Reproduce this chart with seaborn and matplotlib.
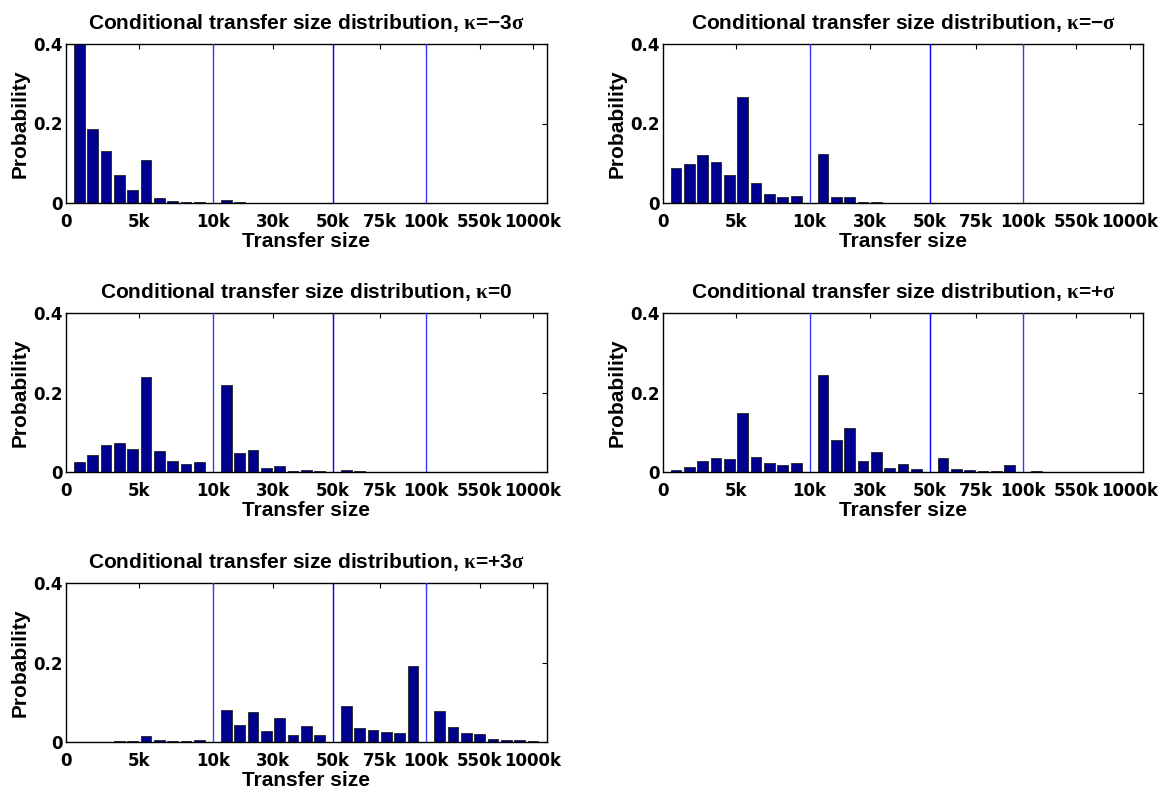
import matplotlib
matplotlib.use("Agg")
import matplotlib.pyplot as plt
import seaborn as sns
import pandas as pd

# ---------------- data ----------------
# bins per segment (0-10k, 10k-50k, 50k-100k, 100k-1000k)
segment_bins = [10, 8, 6, 8]
tick_labels = ["0", "5k", "10k", "30k", "50k", "75k", "100k", "550k", "1000k"]
tick_pos = [0, 5.5, 11, 15.5, 20, 23.5, 27, 31, 35]
boundary_pos = [11, 20, 27]
boundary_colors = ["#3a3aff", "#0000ff", "#3a3aff"]

kappa_m3 = [0.43, 0.187, 0.131, 0.071, 0.033, 0.109, 0.0126, 0.005, 0.003, 0.0025,
            0.008, 0.002, 0.001, 0.001, 0.0005, 0.0003, 0.0002, 0.0002,
            0.0002, 0.0001, 0.0001, 0.0001, 0.0001, 0.0001,
            0.0001, 0.0, 0.0, 0.0, 0.0, 0.0, 0.0, 0.0]
kappa_m1 = [0.089, 0.097, 0.120, 0.102, 0.070, 0.266, 0.050, 0.023, 0.015, 0.0167,
            0.123, 0.016, 0.016, 0.003, 0.003, 0.001, 0.001, 0.001,
            0.0005, 0.0005, 0.0005, 0.0005, 0.0005, 0.0005,
            0.0005, 0.0003, 0.0003, 0.0002, 0.0002, 0.0001, 0.0001, 0.0001]
kappa_0 = [0.024, 0.042, 0.069, 0.072, 0.059, 0.238, 0.054, 0.028, 0.019, 0.024,
           0.218, 0.048, 0.055, 0.009, 0.016, 0.0025, 0.004, 0.0015,
           0.005, 0.0015, 0.001, 0.001, 0.001, 0.001,
           0.0005, 0.0005, 0.0005, 0.0005, 0.0005, 0.0005, 0.0005, 0.0005]
kappa_p1 = [0.004, 0.012, 0.028, 0.035, 0.033, 0.148, 0.038, 0.023, 0.018, 0.023,
            0.244, 0.080, 0.110, 0.027, 0.051, 0.009, 0.020, 0.007,
            0.034, 0.007, 0.004, 0.0025, 0.0015, 0.017,
            0.0025, 0.001, 0.001, 0.001, 0.001, 0.001, 0.001, 0.001]
kappa_p3 = [0.0005, 0.0005, 0.001, 0.0017, 0.003, 0.016, 0.006, 0.003, 0.003, 0.005,
            0.080, 0.0435, 0.076, 0.028, 0.061, 0.018, 0.040, 0.018,
            0.091, 0.034, 0.030, 0.025, 0.0226, 0.192,
            0.077, 0.0385, 0.0234, 0.020, 0.0084, 0.006, 0.004, 0.003]

panels = [
    (r"$\mathrm{\kappa}$=−3$\mathrm{\sigma}$", kappa_m3),
    (r"$\mathrm{\kappa}$=−$\mathrm{\sigma}$", kappa_m1),
    (r"$\mathrm{\kappa}$=0", kappa_0),
    (r"$\mathrm{\kappa}$=+$\mathrm{\sigma}$", kappa_p1),
    (r"$\mathrm{\kappa}$=+3$\mathrm{\sigma}$", kappa_p3),
]

# bin positions: consecutive slots, one empty slot at every segment boundary
positions = []
p = 1
for nb in segment_bins:
    positions += list(range(p, p + nb))
    p += nb + 1

# ---------------- style ----------------
sns.set_theme(style="white")
plt.rcParams["font.family"] = ["Liberation Sans", "DejaVu Sans"]
plt.rcParams["font.weight"] = "bold"
plt.rcParams["axes.labelweight"] = "bold"
plt.rcParams["axes.titleweight"] = "bold"
plt.rcParams["text.color"] = "black"
plt.rcParams["axes.labelcolor"] = "black"
plt.rcParams["xtick.color"] = "black"
plt.rcParams["ytick.color"] = "black"
plt.rcParams["mathtext.fontset"] = "custom"
plt.rcParams["mathtext.rm"] = "Liberation Serif"
plt.rcParams["mathtext.it"] = "Liberation Serif:italic"
plt.rcParams["mathtext.bf"] = "Liberation Serif:bold"

W, H = 1169, 793
fig = plt.figure(figsize=(W / 100, H / 100), dpi=100)

col_left = [66, 662.7]
col_w = 480.5
row_top = [44, 313, 583]
row_h = 159

bar_color = "#00008F"
tick_font = dict(family="DejaVu Sans", weight="bold", size=12)

for i, (kap, vals) in enumerate(panels):
    r, c = divmod(i, 2)
    ax = fig.add_axes([col_left[c] / W, 1 - (row_top[r] + row_h) / H, col_w / W, row_h / H])
    df = pd.DataFrame({"pos": positions, "prob": vals})
    sns.barplot(data=df, x="pos", y="prob", native_scale=True, color=bar_color,
                saturation=1, edgecolor="#222222", linewidth=0.6, width=0.8,
                errorbar=None, ax=ax)
    for bp, bc in zip(boundary_pos, boundary_colors):
        ax.axvline(bp, color=bc, lw=1.0, zorder=3)
    ax.set_xlim(0, 36)
    ax.set_ylim(0, 0.4)
    ax.set_xticks(tick_pos)
    ax.set_xticklabels(tick_labels, fontdict=tick_font)
    ax.set_yticks([0, 0.2, 0.4])
    ax.set_yticklabels(["0", "0.2", "0.4"], fontdict=tick_font)
    ax.tick_params(direction="in", top=True, right=True, length=3.5, width=0.8,
                   pad=2, color="black")
    ax.tick_params(axis="x", pad=7.5)
    for s in ax.spines.values():
        s.set_visible(True)
        s.set_color("black")
        s.set_linewidth(1.0)
    ax.set_xlabel("Transfer size", fontsize=15, fontweight="bold", labelpad=0.5)
    ax.set_ylabel("Probability", fontsize=15, fontweight="bold", labelpad=3)
    ax.set_title("Conditional transfer size distribution, " + kap, fontsize=15,
                 fontweight="bold", pad=11)

fig.savefig("out.png", dpi=100, facecolor="white")
